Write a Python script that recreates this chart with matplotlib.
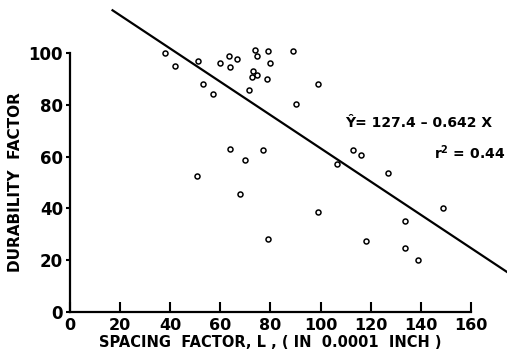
import matplotlib
matplotlib.use("Agg")
import matplotlib.pyplot as plt
import numpy as np

# spacing factor (0.0001 in) vs durability factor
spacing = [38, 42, 51, 53, 57, 60, 63.6, 63.9, 66.5, 71.3, 73.7, 74.7, 73.2, 72.6, 74.5,
           64, 70, 50.5, 79.1, 88.9, 79.8, 78.7, 98.8, 90.3, 77, 113, 116, 106.5, 127,
           68, 99, 79, 118, 133.5, 133.7, 139, 149]
durability = [100, 95, 97, 88, 84, 96, 99, 94.7, 97.6, 85.7, 101, 98.8, 92.9, 90.6, 91.6,
              63, 58.5, 52.5, 100.6, 100.6, 96.3, 90.1, 88, 80.5, 62.7, 62.5, 60.5, 57.3, 53.5,
              45.5, 38.5, 28, 27.3, 35, 24.6, 20, 40]

intercept = 127.4
slope = -0.642
line_x = [17, 175]

xticks = [0, 20, 40, 60, 80, 100, 120, 140, 160]
yticks = [0, 20, 40, 60, 80, 100]

plt.rcParams['font.family'] = ['DejaVu Sans']
plt.rcParams['font.weight'] = 'bold'

W, H = 507, 361
fig = plt.figure(figsize=(W / 100, H / 100), dpi=100)
ax = fig.add_axes([0.1379, 0.1357, 0.7911, 0.7175])

ax.plot(spacing, durability, 'o', mfc='white', mec='black', ms=3.6, mew=1.1, zorder=3, clip_on=False)
lx = np.array(line_x)
ax.plot(lx, intercept + slope * lx, color='black', lw=1.6, clip_on=False)

ax.set_xlim(0, 160)
ax.set_ylim(0, 100)
ax.spines['top'].set_visible(False)
ax.spines['right'].set_visible(False)
ax.spines['left'].set_linewidth(1.6)
ax.spines['bottom'].set_linewidth(1.6)

ax.set_xticks(xticks)
ax.set_yticks(yticks)
ax.tick_params(axis='x', direction='in', length=7, width=1.5, labelsize=11.5, pad=4)
ax.tick_params(axis='y', direction='out', length=3, width=1.5, labelsize=12, pad=2)
for t in ax.get_xticklabels() + ax.get_yticklabels():
    t.set_fontweight('bold')

ax.set_xlabel('SPACING  FACTOR, L , ( IN  0.0001  INCH )', fontsize=10.5, fontweight='bold', labelpad=2)
ax.set_ylabel('DURABILITY  FACTOR', fontsize=11, fontweight='bold', labelpad=4)

# equation text, placed by pixel position
fig.text(345 / W, 1 - 123 / H, 'Ŷ= 127.4 – 0.642 X', fontsize=10, fontweight='bold', va='center')
fig.text(434 / W, 1 - 153 / H, 'r$^\\mathbf{2}$ = 0.44', fontsize=10, fontweight='bold', va='center')

fig.savefig('out.png', dpi=100)
